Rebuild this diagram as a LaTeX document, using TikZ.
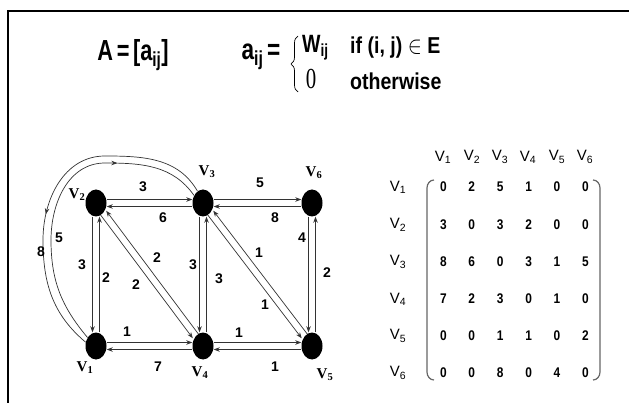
\documentclass[tikz,border=0pt]{standalone}
\usepackage{fontspec}
\setmainfont{Liberation Sans}
\newfontfamily\serifv{Liberation Serif}
\usetikzlibrary{shapes.geometric,arrows.meta,decorations.markings,decorations.pathreplacing}
\begin{document}
\begin{tikzpicture}[x=1pt,y=1pt,
  vtx/.style={ellipse, fill=black, minimum width=21pt, minimum height=27pt, inner sep=0pt},
  vlab/.style={font=\serifv\bfseries\fontsize{15}{15}\selectfont, inner sep=0pt},
  wt/.style={font=\bfseries\fontsize{14}{14}\selectfont, inner sep=0pt},
  edge/.style={draw=black!80, line width=0.7pt, -{Stealth[length=6pt,width=4.5pt]}},
  midarrow/.style={draw=black!80, line width=0.7pt, postaction={decorate},
     decoration={markings, mark=at position #1 with {\arrow{Stealth[length=6pt,width=4.5pt]}}}},
  ent/.style={font=\bfseries\fontsize{14}{14}\selectfont, inner sep=0pt},
  rowlab/.style={font=\fontsize{15}{15}\selectfont, inner sep=0pt},
  paren/.style={draw=black!60, line width=1.2pt},
  big/.style={font=\bfseries\fontsize{29}{29}\selectfont, inner sep=0pt},
  mid/.style={font=\bfseries\fontsize{23}{23}\selectfont, inner sep=0pt, anchor=west}
]
\useasboundingbox (0,0) rectangle (629,-403);
\draw[line width=2pt] (8,-403) -- (8,-11) -- (629,-11);

% formula
\node[big] (Aeq) at (133,-55) {\scalebox{0.75}[1]{A\,=\,[a\textsubscript{ij}]}};
\node[big] (aeq) at (261,-57) {\scalebox{0.78}[1]{a\textsubscript{ij}\,=}};
\coordinate (bb) at (298,-92);
\coordinate (bt) at (298,-36);
\draw[line width=0.7pt, decorate, decoration={brace, amplitude=7pt}] (bb) -- (bt);
\node[font=\bfseries\fontsize{25}{25}\selectfont, inner sep=0pt, anchor=west] (W) at (302,-48) {\scalebox{0.78}[1]{W\textsubscript{ij}}};
\node[mid] (ifE) at (350,-48) {\scalebox{0.85}[1]{if (i, j) $\in$ E}};
\node[font=\serifv\fontsize{29}{29}\selectfont, inner sep=0pt] (zero) at (311,-79) {\scalebox{0.72}[1]{0}};
\node[mid] (oth) at (350,-81) {\scalebox{0.85}[1]{otherwise}};

% vertices
\node[vtx] (V1) at (96,-346) {};
\node[vtx] (V2) at (96,-203) {};
\node[vtx] (V3) at (203,-203) {};
\node[vtx] (V4) at (203,-346) {};
\node[vtx] (V5) at (312,-346) {};
\node[vtx] (V6) at (312,-203) {};
\node[vlab] (L1) at (85,-368) {V\textsubscript{1}};
\node[vlab] (L2) at (77,-195) {V\textsubscript{2}};
\node[vlab] (L3) at (207,-172) {V\textsubscript{3}};
\node[vlab] (L4) at (200,-373) {V\textsubscript{4}};
\node[vlab] (L5) at (325,-375) {V\textsubscript{5}};
\node[vlab] (L6) at (314,-173) {V\textsubscript{6}};

% horizontal pairs
\draw[edge, transform canvas={yshift=3.5pt}] (V2) -- (V3);
\draw[edge, transform canvas={yshift=-3.5pt}] (V3) -- (V2);
\draw[edge, transform canvas={yshift=3.5pt}] (V3) -- (V6);
\draw[edge, transform canvas={yshift=-3.5pt}] (V6) -- (V3);
\draw[edge, transform canvas={yshift=3.5pt}] (V1) -- (V4);
\draw[edge, transform canvas={yshift=-3.5pt}] (V4) -- (V1);
\draw[edge, transform canvas={yshift=3.5pt}] (V4) -- (V5);
\draw[edge, transform canvas={yshift=-3.5pt}] (V5) -- (V4);
% vertical pairs
\draw[edge, transform canvas={xshift=-3.5pt}] (V2) -- (V1);
\draw[edge, transform canvas={xshift=3.5pt}] (V1) -- (V2);
\draw[edge, transform canvas={xshift=-3.5pt}] (V3) -- (V4);
\draw[edge, transform canvas={xshift=3.5pt}] (V4) -- (V3);
\draw[edge, transform canvas={xshift=-3.5pt}] (V6) -- (V5);
\draw[edge, transform canvas={xshift=3.5pt}] (V5) -- (V6);
% diagonal pairs
\draw[edge, transform canvas={xshift=-2.8pt, yshift=-2.1pt}] (V2) -- (V4);
\draw[edge, transform canvas={xshift=2.8pt, yshift=2.1pt}] (V4) -- (V2);
\draw[edge, transform canvas={xshift=-2.8pt, yshift=-2.1pt}] (V3) -- (V5);
\draw[edge, transform canvas={xshift=2.8pt, yshift=2.1pt}] (V5) -- (V3);
% curved pair V1 - V3
\coordinate (co1) at (43,-240);
\coordinate (co2) at (105,-156);
\coordinate (ci1) at (51,-240);
\coordinate (ci2) at (105,-163);
\draw[midarrow=0.58] (V3.115) to[out=120,in=0] (co2) to[out=180,in=90] (co1) to[out=-90,in=140] (V1.160);
\draw[midarrow=0.72] (V1.135) to[out=130,in=-90] (ci1) to[out=90,in=180] (ci2) to[out=0,in=125] (V3.140);

% weights
\node[wt] (w23) at (143,-187) {3};
\node[wt] (w32) at (163,-218) {6};
\node[wt] (w36) at (260,-183) {5};
\node[wt] (w63) at (275,-218) {8};
\node[wt] (w21) at (82,-265) {3};
\node[wt] (w12) at (106,-278) {2};
\node[wt] (w34) at (193,-265) {3};
\node[wt] (w43) at (219,-279) {3};
\node[wt] (w65) at (302,-238) {4};
\node[wt] (w56) at (327,-273) {2};
\node[wt] (w42) at (157,-258) {2};
\node[wt] (w24) at (136,-285) {2};
\node[wt] (w53) at (259,-253) {1};
\node[wt] (w35) at (265,-305) {1};
\node[wt] (w14) at (127,-332) {1};
\node[wt] (w41) at (158,-367) {7};
\node[wt] (w45) at (239,-333) {1};
\node[wt] (w54) at (275,-367) {1};
\node[wt] (w31) at (41,-252) {8};
\node[wt] (w13) at (59,-238) {5};

% matrix
\foreach \c/\x in {1/443,2/472,3/500,4/528,5/557,6/585}
  \node[rowlab] (h\c) at (\x,-157) {V\textsubscript{\c}};
\foreach \r/\y/\vals in {1/187/{0,2,5,1,0,0},2/225/{3,0,3,2,0,0},3/262/{8,6,0,3,1,5},
                        4/299/{7,2,3,0,1,0},5/336/{0,0,1,1,0,2},6/373/{0,0,8,0,4,0}}{
  \node[rowlab] (r\r) at (398,-\y) {V\textsubscript{\r}};
  \foreach \v [count=\c] in \vals {
    \pgfmathsetmacro{\xx}{415+28.4*\c}
    \node[ent] (m\r\c) at (\xx,-\y) {\scalebox{0.85}[1]{\v}};
  }
}
\draw[paren] (434,-180) to[out=180,in=90] (427,-188) -- (427,-372) to[out=-90,in=180] (434,-380);
\draw[paren] (593,-180) to[out=0,in=90] (600,-188) -- (600,-372) to[out=-90,in=0] (593,-380);
\end{tikzpicture}
\end{document}
